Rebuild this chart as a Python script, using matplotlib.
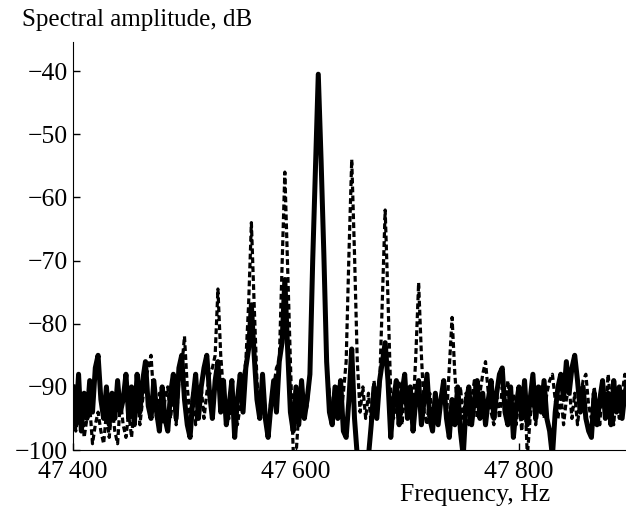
import numpy as np
import matplotlib
matplotlib.use("Agg")
import matplotlib.pyplot as plt
from matplotlib.ticker import FuncFormatter

plt.rcParams["font.family"]=["Liberation Serif","DejaVu Serif"]

# frequency grid, 2.5 Hz step
freq_start,freq_step=47400,2.5

# solid curve, dB (10 points per row = 25 Hz)
solid_db=[
    -90,-96,-88,-97,-91,-95,-89,-94,-87,-85,
    -92,-95,-90,-96,-91,-95,-89,-94,-92,-88,
    -95,-90,-96,-88,-94,-89,-86,-93,-95,-89,
    -94,-97,-90,-95,-97,-91,-88,-95,-87,-85,
    -92,-96,-98,-92,-88,-95,-90,-87,-85,-91,
    -95,-89,-86,-94,-89,-96,-93,-89,-98,-92,
    -88,-94,-87,-84,-77,-85,-92,-95,-88,-95,
    -98,-93,-89,-94,-86,-83,-73,-84,-94,-97,
    -90,-96,-89,-95,-92,-88,-70,-55,-40.5,-54,
    -69,-86,-94,-96,-90,-95,-89,-97,-98,-92,
    -84,-95,-101,-102,-101,-103,-101,-96,-90,-95,
    -89,-86,-83,-89,-98,-92,-89,-96,-91,-88,
    -95,-90,-97,-92,-89,-96,-92,-88,-95,-97,
    -91,-96,-92,-89,-95,-98,-92,-96,-90,-97,
    -101,-93,-90,-96,-92,-89,-95,-91,-96,-92,
    -89,-95,-91,-88,-87,-94,-96,-90,-98,-93,
    -90,-95,-89,-96,-92,-88,-95,-90,-94,-89,
    -95,-97,-101,-94,-90,-88,-92,-86,-91,-87,
    -85,-89,-94,-90,-95,-97,-98,-91,-96,-92,
    -89,-95,-91,-96,-89,-94,-90,-95,-91,-89,
    -93,
]

# dashed curve, dB (with the sidebands)
dashed_db=[
    -92,-97,-94,-91,-98,-95,-93,-99,-96,-94,
    -97,-99,-94,-98,-93,-97,-99,-92,-96,-98,
    -94,-98,-93,-91,-96,-92,-89,-87,-85,-92,
    -95,-91,-96,-92,-90,-95,-91,-96,-89,-87,
    -82,-90,-95,-91,-96,-92,-90,-95,-91,-88,
    -87,-85,-74.5,-85,-91,-93,-95,-90,-94,-96,
    -93,-89,-86,-77,-64,-77,-89,-94,-90,-95,
    -97,-92,-90,-87,-86,-71,-56,-71,-86,-100,
    -101,-94,-91,-95,-93,-88,-70,-55,-41,-54,
    -69,-87,-91,-96,-92,-90,-95,-91,-86,-69,
    -54,-69,-86,-94,-90,-95,-91,-96,-89,-94,
    -90,-76,-62,-76,-91,-95,-92,-89,-96,-91,
    -95,-90,-94,-85,-73.5,-85,-94,-96,-91,-95,
    -91,-96,-92,-89,-95,-87,-79,-88,-94,-90,
    -95,-91,-96,-92,-89,-95,-91,-88,-86,-91,
    -94,-96,-91,-95,-90,-94,-89,-95,-91,-96,
    -92,-97,-90,-101,-95,-91,-96,-92,-90,-95,
    -91,-89,-88,-92,-95,-91,-96,-92,-90,-95,
    -91,-96,-92,-89,-88,-93,-95,-90,-94,-96,
    -89,-94,-88,-93,-96,-90,-95,-91,-88,-94,
    -90,
]

x_ticks=[47400,47600,47800]
y_ticks=[-100,-90,-80,-70,-60,-50,-40]

def freq_label(v,pos):
    s=f"{int(v)}"
    return s[:2]+"\u2009"+s[2:]

if __name__=="__main__":
    freq=freq_start+freq_step*np.arange(len(solid_db))
    fig=plt.figure(figsize=(6.26,5.12),dpi=100)
    ax=fig.add_axes([0.1166,0.121,0.8834,0.797])
    ax.plot(freq,dashed_db,color="black",lw=2.3,linestyle=(0,(1.8,1.0)))
    ax.plot(freq,solid_db,color="black",lw=3.6)
    ax.set_xlim(47400,47896)
    ax.set_ylim(-100,-35.4)
    ax.set_xticks(x_ticks)
    ax.set_yticks(y_ticks)
    ax.xaxis.set_major_formatter(FuncFormatter(freq_label))
    ax.tick_params(direction="in",length=5,width=1,labelsize=18.5)
    ax.tick_params(axis="x",pad=8)
    ax.spines["top"].set_visible(False)
    ax.spines["right"].set_visible(False)
    fig.text(0.035,0.961,"Spectral amplitude, dB",fontsize=18,ha="left",va="center")
    fig.text(0.879,0.033,"Frequency, Hz",fontsize=18.5,ha="right",va="center")
    fig.savefig("out.png",dpi=100)
